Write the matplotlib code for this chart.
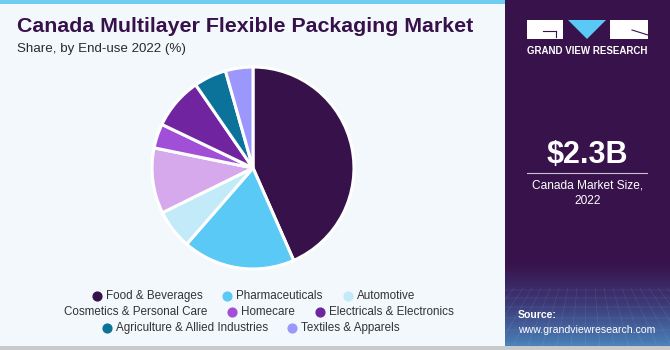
import numpy as np
import matplotlib.pyplot as plt
from matplotlib.patches import Rectangle, Polygon
from matplotlib.colors import LinearSegmentedColormap

plt.rcParams['font.family'] = ['Liberation Sans', 'DejaVu Sans']

# End-use shares, 2022 (%)
segments = ['Food & Beverages', 'Pharmaceuticals', 'Automotive',
            'Cosmetics & Personal Care', 'Homecare', 'Electricals & Electronics',
            'Agriculture & Allied Industries', 'Textiles & Apparels']
shares = [43.4, 18.0, 6.3, 10.5, 3.9, 8.3, 5.2, 4.4]
colors = ['#37114a', '#5bc9f5', '#c2eaf9', '#d5a9eb', '#a24fd8',
          '#70249f', '#0b7299', '#9b97fc']

market_size = '$2.3B'
market_label = 'Canada Market Size,\n2022'

W, H = 670, 350
fig = plt.figure(figsize=(W / 100, H / 100), dpi=100)
fig.patch.set_facecolor('#f3f8fc')

# background canvas in pixel coordinates
bg = fig.add_axes([0, 0, 1, 1])
bg.set_xlim(0, W)
bg.set_ylim(H, 0)
bg.axis('off')

bg.add_patch(Rectangle((0, 0), 505, 4, color='#6fcdf2', lw=0))
bg.add_patch(Rectangle((0, 346), W, 4, color='#c8cacc', lw=0))

# right side panel with a bluish fade at the bottom
bg.add_patch(Rectangle((505, 0), 165, 346, color='#38124a', lw=0))
fade = LinearSegmentedColormap.from_list('fade', ['#38124a', '#3c3a78', '#4a80b8'])
grad = np.linspace(0, 1, 100).reshape(-1, 1)
bg.imshow(grad, cmap=fade, extent=(505, 670, 346, 262), aspect='auto', zorder=1)
for gx in np.arange(505, 670, 9):
    bg.plot([gx, 587 + (gx - 587) * 1.6], [288, 346], color='white', lw=0.3, alpha=0.15, zorder=2)
for gy in [290, 298, 307, 318, 330, 344]:
    bg.plot([505, 670], [gy, gy], color='white', lw=0.3, alpha=0.15, zorder=2)

# logo
bg.add_patch(Rectangle((527, 20), 36, 19, color='white', lw=0, zorder=3))
bg.plot([543, 556], [31, 31], color='#38124a', lw=0.8, zorder=4)
bg.plot([556, 556], [31, 37], color='#38124a', lw=0.8, zorder=4)
bg.add_patch(Polygon([(568, 20), (606, 20), (587, 39)], color='#5bc9f5', lw=0, zorder=3))
bg.add_patch(Rectangle((610, 20), 38, 19, color='white', lw=0, zorder=3))
bg.plot([632, 648], [30, 35], color='#38124a', lw=0.8, zorder=4)
bg.text(587.5, 51, 'GRAND VIEW RESEARCH', color='white', fontsize=7,
        fontweight='bold', ha='center', va='center', zorder=4)

bg.text(587.5, 155, market_size, color='white', fontsize=22, fontweight='bold',
        ha='center', va='center', zorder=4)
bg.plot([527, 647], [173, 173], color='#c9c2d3', lw=0.8, zorder=4)
bg.text(587.5, 193, market_label, color='white', fontsize=8.6, ha='center',
        va='center', linespacing=1.35, zorder=4)
bg.text(518, 315, 'Source:', color='white', fontsize=7.6, fontweight='bold',
        ha='left', va='center', zorder=4)
bg.text(518, 330, 'www.grandviewresearch.com', color='white', fontsize=7.6,
        ha='left', va='center', zorder=4)

# titles
bg.text(17, 27, 'Canada Multilayer Flexible Packaging Market', color='#37114a',
        fontsize=15.4, fontweight='bold', ha='left', va='center')
bg.text(17, 49, 'Share, by End-use 2022 (%)', color='#2b2b2b', fontsize=9.6,
        ha='left', va='center')

# pie
cx, cy, r = 253, 168, 103
ax = fig.add_axes([(cx - r) / W, (H - cy - r) / H, 2 * r / W, 2 * r / H])
ax.pie(shares, colors=colors, startangle=90, counterclock=False, radius=1,
       wedgeprops=dict(edgecolor='white', linewidth=2.2))
ax.set_xlim(-1.02, 1.02)
ax.set_ylim(-1.02, 1.02)
ax.set_aspect('equal')

# legend rows (the first entry of row two has its marker clipped off)
rows = [[0, 1, 2], [3, 4, 5], [6, 7]]
row_y = [296, 312, 328]
row_x = [[97, 227, 348], [None, 232, 320], [107, 292]]
for row, y, xs in zip(rows, row_y, row_x):
    for i, x in zip(row, xs):
        if x is None:
            bg.text(64, y, segments[i], fontsize=8.4, color='#333333',
                    ha='left', va='center')
            continue
        bg.scatter([x], [y], s=40, color=colors[i], zorder=5)
        bg.text(x + 9, y, segments[i], fontsize=8.4, color='#333333',
                ha='left', va='center')

fig.savefig('out.png', dpi=100, facecolor=fig.get_facecolor())
